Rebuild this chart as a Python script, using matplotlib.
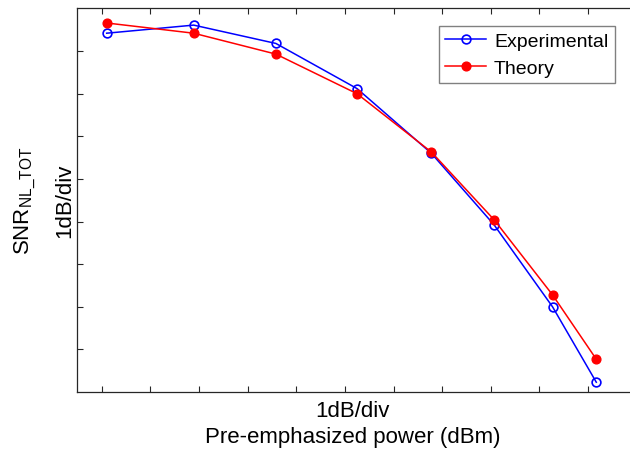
import matplotlib.pyplot as plt

plt.rcParams['font.family'] = ['Liberation Sans', 'DejaVu Sans']
plt.rcParams['mathtext.default'] = 'regular'

# power steps (1 dB/div) and SNR values (1 dB/div)
power = [0.10, 1.89, 3.58, 5.25, 6.78, 8.07, 9.27, 10.17]
snr_experimental = [8.42, 8.61, 8.18, 7.12, 5.60, 3.92, 2.00, 0.23]
snr_theory = [8.66, 8.42, 7.93, 7.00, 5.63, 4.04, 2.28, 0.77]

fig = plt.figure(figsize=(6.3, 4.52), dpi=100)
ax = fig.add_axes([0.1222, 0.1305, 0.876, 0.8485])

ax.plot(power, snr_experimental, color='blue', marker='o', markersize=6.3,
        markerfacecolor='none', markeredgewidth=1.2, linewidth=1.1,
        label='Experimental')
ax.plot(power, snr_theory, color='red', marker='o', markersize=6.3,
        markerfacecolor='red', markeredgewidth=1.0, linewidth=1.1,
        label='Theory')

ax.set_xlim(-0.51, 10.84)
ax.set_ylim(0, 9)
ax.set_xticks(range(0, 11))
ax.set_yticks(range(1, 9))
ax.set_xticklabels([])
ax.set_yticklabels([])
ax.tick_params(direction='in', length=4.5, width=0.8, top=True, right=False,
               colors='#262626')
ax.spines['right'].set_visible(False)
for s in ['left', 'top', 'bottom']:
    ax.spines[s].set_color('#262626')
    ax.spines[s].set_linewidth(0.9)

ax.set_xlabel('1dB/div\nPre-emphasized power (dBm)', fontsize=16,
              linespacing=1.35, labelpad=2)
fig.text(0.040, 0.555, 'SNR$_{NL\\_TOT}$', rotation=90, fontsize=16,
         ha='center', va='center')
fig.text(0.103, 0.555, '1dB/div', rotation=90, fontsize=16,
         ha='center', va='center')

leg = ax.legend(loc='upper right', bbox_to_anchor=(0.975, 0.955), fontsize=14,
                fancybox=False, framealpha=1, borderpad=0.35,
                handlelength=2.1, handletextpad=0.4, labelspacing=0.45,
                borderaxespad=0)
leg.get_frame().set_edgecolor('#808080')
leg.get_frame().set_linewidth(1.0)

fig.savefig('out.png', dpi=100)
